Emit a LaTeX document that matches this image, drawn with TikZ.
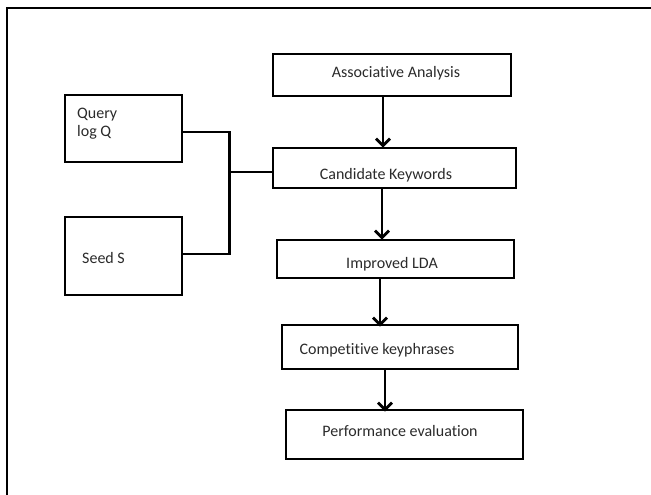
\documentclass[tikz,border=0pt]{standalone}
\usepackage{fontspec}
\setmainfont[Ligatures=NoCommon]{Carlito}
\usetikzlibrary{arrows.meta,calc}
\definecolor{txtc}{HTML}{2A2A2A}
\begin{document}
\begin{tikzpicture}[x=1pt,y=-1pt,
  box/.style={draw, line width=2.8pt, rectangle, inner sep=0pt},
  txt/.style={inner sep=0pt, text=txtc, font=\fontsize{16}{18}\selectfont},
  conn/.style={line width=2.4pt},
  arr/.style={line width=2.8pt, -{Straight Barb[length=7pt,width=14pt,line width=2.8pt]}}]
\useasboundingbox (0,0) rectangle (651,495);
\draw[line width=2.4pt] (653,8) -- (7,8) -- (7,497);
% boxes
\node[box, minimum width=238, minimum height=42] (aa) at (392,75) {};
\node[box, minimum width=243, minimum height=40] (ck) at (394.5,168) {};
\node[box, minimum width=237, minimum height=38] (lda) at (395.5,259) {};
\node[box, minimum width=236, minimum height=44] (cp) at (400,347) {};
\node[box, minimum width=237, minimum height=49] (pe) at (404.5,434.5) {};
\node[box, minimum width=117, minimum height=67] (q) at (123.5,128.5) {};
\node[box, minimum width=117, minimum height=78] (s) at (123.5,256) {};
% texts
\node[txt] (aat) at (396,73) {Associative Analysis};
\node[txt] (ckt) at (386,175) {Candidate Keywords};
\node[txt] (ldat) at (392,264) {Improved LDA};
\node[txt] (cpt) at (377,350) {Competitive keyphrases};
\node[txt] (pet) at (400,431) {Performance evaluation};
\node[txt, anchor=west, align=left] (qt) at (77,123.5) {Query\\log Q};
\node[txt, anchor=west] (st) at (82,258) {Seed S};
% connectors
\coordinate (j) at (228,172);
\draw[conn] ([yshift=-3.5]q.east) -| ($([yshift=2]s.east)+(46,0)$) -- ([yshift=2]s.east);
\draw[conn] (j) -- (j -| ck.west);
% arrows
\draw[arr] ([xshift=-9]aa.south) -- ([xshift=-9,yshift=-1]aa.south |- ck.north);
\draw[arr] ([xshift=-12.5]ck.south) -- ([xshift=-12.5,yshift=-1]ck.south |- lda.north);
\draw[arr] ([xshift=-15.5]lda.south) -- ([xshift=-15.5,yshift=-3]lda.south |- cp.north);
\draw[arr] ([xshift=-15]cp.south) -- ([xshift=-15,yshift=-3]cp.south |- pe.north);
\end{tikzpicture}
\end{document}
